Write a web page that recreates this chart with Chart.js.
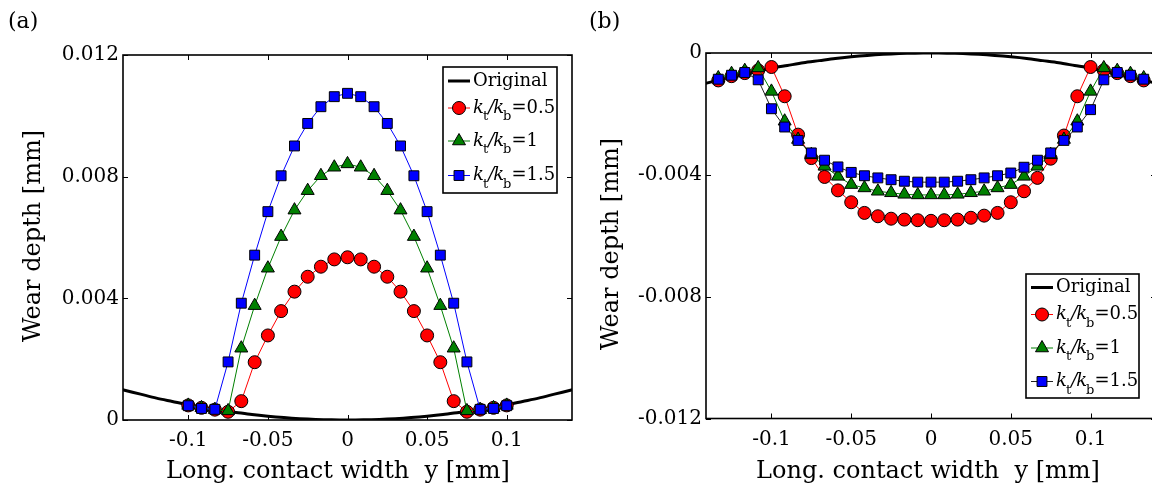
<!DOCTYPE html>
<html>
<head>
<meta charset="utf-8">
<script src="https://cdn.jsdelivr.net/npm/chart.js@4.4.1/dist/chart.umd.min.js"></script>
<style>
  html, body { margin: 0; padding: 0; background: #fff; overflow: hidden; }
  #wrap { position: relative; width: 1152px; height: 486px; overflow: hidden; background: #fff; }
  #ca { position: absolute; left: 0; top: 0; }
  #cb { position: absolute; left: 590px; top: 0; }
</style>
</head>
<body>
<div id="wrap">
  <canvas id="ca" width="600" height="486"></canvas>
  <canvas id="cb" width="590" height="486"></canvas>
</div>
<script>
// ---- Panel (a): wear depth along the contact, three stiffness ratios ----
const posA = [-0.1, -0.0917, -0.0833, -0.075, -0.0667, -0.0583, -0.05, -0.0417, -0.0333, -0.025, -0.0167, -0.0083,
  0, 0.0083, 0.0167, 0.025, 0.0333, 0.0417, 0.05, 0.0583, 0.0667, 0.075, 0.0833, 0.0917, 0.1];
const wearA_05 = [0.00048, 0.00040, 0.00034, 0.00027, 0.00062, 0.00190, 0.00278, 0.00358, 0.00422, 0.00471, 0.00504, 0.00528,
  0.00535, 0.00528, 0.00504, 0.00471, 0.00422, 0.00358, 0.00278, 0.00190, 0.00062, 0.00027, 0.00034, 0.00040, 0.00048];
const wearA_10 = [0.00048, 0.00040, 0.00034, 0.00030, 0.00236, 0.00376, 0.00499, 0.00603, 0.00690, 0.00754, 0.00803, 0.00831,
  0.00842, 0.00831, 0.00803, 0.00754, 0.00690, 0.00603, 0.00499, 0.00376, 0.00236, 0.00030, 0.00034, 0.00040, 0.00048];
const wearA_15 = [0.00047, 0.00038, 0.00035, 0.00191, 0.00384, 0.00542, 0.00685, 0.00803, 0.00901, 0.00975, 0.01030, 0.01063,
  0.01074, 0.01063, 0.01030, 0.00975, 0.00901, 0.00803, 0.00685, 0.00542, 0.00384, 0.00191, 0.00035, 0.00038, 0.00047];

// ---- Panel (b): profile after wear ----
const posB = [-0.1333, -0.125, -0.1167, -0.1083, -0.1, -0.0917, -0.0833, -0.075, -0.0667, -0.0583, -0.05, -0.0417, -0.0333, -0.025, -0.0167, -0.0083,
  0, 0.0083, 0.0167, 0.025, 0.0333, 0.0417, 0.05, 0.0583, 0.0667, 0.075, 0.0833, 0.0917, 0.1, 0.1083, 0.1167, 0.125, 0.1333];
const wearB_05 = [-0.00090, -0.00076, -0.00066, -0.00057, -0.00046, -0.00142, -0.00268, -0.00345, -0.00407, -0.00451, -0.00490, -0.00525, -0.00536, -0.00544, -0.00547, -0.00549,
  -0.00551, -0.00549, -0.00547, -0.00541, -0.00534, -0.00525, -0.00490, -0.00454, -0.00410, -0.00347, -0.00271, -0.00142, -0.00046, -0.00057, -0.00066, -0.00076, -0.00090];
const wearB_10 = [-0.00082, -0.00068, -0.00058, -0.00049, -0.00126, -0.00224, -0.00284, -0.00334, -0.00372, -0.00405, -0.00432, -0.00443, -0.00454, -0.00459, -0.00464, -0.00466,
  -0.00466, -0.00466, -0.00464, -0.00459, -0.00454, -0.00443, -0.00432, -0.00405, -0.00372, -0.00334, -0.00284, -0.00224, -0.00126, -0.00049, -0.00058, -0.00068, -0.00082];
const wearB_15 = [-0.00086, -0.00073, -0.00064, -0.00088, -0.00183, -0.00243, -0.00287, -0.00328, -0.00352, -0.00374, -0.00392, -0.00403, -0.00410, -0.00416, -0.00421, -0.00424,
  -0.00424, -0.00424, -0.00421, -0.00416, -0.00410, -0.00403, -0.00394, -0.00375, -0.00352, -0.00328, -0.00287, -0.00243, -0.00186, -0.00088, -0.00064, -0.00073, -0.00086];

// ---- Unworn (original) profile ----
const origPos = [-0.15, -0.14, -0.13, -0.12, -0.11, -0.10, -0.09, -0.08, -0.07, -0.06, -0.05, -0.04, -0.03, -0.02, -0.01, 0,
  0.01, 0.02, 0.03, 0.04, 0.05, 0.06, 0.07, 0.08, 0.09, 0.10, 0.11, 0.12, 0.13, 0.14, 0.15];
const origA = [0.00112, 0.00098, 0.00085, 0.00072, 0.00061, 0.00050, 0.00041, 0.00032, 0.00025, 0.00018, 0.000125, 0.00008, 0.000045, 0.00002, 0.000005, 0,
  0.000005, 0.00002, 0.000045, 0.00008, 0.000125, 0.00018, 0.00025, 0.00032, 0.00041, 0.00050, 0.00061, 0.00072, 0.00085, 0.00098, 0.00112];
const origB = [-0.00112, -0.00098, -0.00085, -0.00072, -0.00061, -0.00050, -0.00041, -0.00032, -0.00025, -0.00018, -0.000125, -0.00008, -0.000045, -0.00002, -0.000005, 0,
  -0.000005, -0.00002, -0.000045, -0.00008, -0.000125, -0.00018, -0.00025, -0.00032, -0.00041, -0.00050, -0.00061, -0.00072, -0.00085, -0.00098, -0.00112];

// ---- Axes ----
const xTicks = [-0.1, -0.05, 0, 0.05, 0.1];
const xTickLabels = ['-0.1', '-0.05', '0', '0.05', '0.1'];
const yTicksA = [0, 0.004, 0.008, 0.012];
const yTickLabelsA = ['0', '0.004', '0.008', '0.012'];
const yTicksB = [-0.012, -0.008, -0.004, 0];
const yTickLabelsB = ['-0.012', '-0.008', '-0.004', '0'];
const seriesNames = ['Original', '0.5', '1', '1.5'];

const FONT = '"DejaVu Serif", "Liberation Serif", serif';
const pairs = (xs, ys) => xs.map((v, i) => ({ x: v, y: ys[i] }));

function markerSet(values, xs, style, fill, lineColor, radius, order) {
  return {
    data: pairs(xs, values),
    borderColor: lineColor,
    borderWidth: 1,
    pointStyle: style,
    pointRadius: radius,
    pointBackgroundColor: fill,
    pointBorderColor: '#000',
    pointBorderWidth: 1,
    tension: 0,
    order: order
  };
}

function drawMarker(ctx, style, x, y, r, fill) {
  ctx.save();
  ctx.fillStyle = fill; ctx.strokeStyle = '#000'; ctx.lineWidth = 1;
  ctx.beginPath();
  if (style === 'circle') {
    ctx.arc(x, y, r, 0, Math.PI * 2);
  } else if (style === 'rect') {
    const s = r * Math.SQRT1_2;
    ctx.rect(x - s, y - s, 2 * s, 2 * s);
  } else {
    ctx.moveTo(x, y - r);
    ctx.lineTo(x + r * Math.sin(Math.PI * 2 / 3), y - r * Math.cos(Math.PI * 2 / 3));
    ctx.lineTo(x + r * Math.sin(Math.PI * 4 / 3), y - r * Math.cos(Math.PI * 4 / 3));
    ctx.closePath();
  }
  ctx.fill(); ctx.stroke();
  ctx.restore();
}

// frame, inward ticks, axis titles, panel tag and legend
const decorPlugin = {
  id: 'decor',
  afterDraw(chart, args, o) {
    const { ctx, chartArea: a, scales } = chart;
    const xs = scales.x, ys = scales.y;
    ctx.save();
    ctx.strokeStyle = '#000';
    ctx.lineWidth = 1.6;
    ctx.strokeRect(a.left, a.top, a.right - a.left, a.bottom - a.top);
    ctx.lineWidth = 1;
    const tl = 5;
    ctx.beginPath();
    o.xTicks.forEach(v => {
      const p = Math.round(xs.getPixelForValue(v)) + 0.5;
      ctx.moveTo(p, a.bottom); ctx.lineTo(p, a.bottom - tl);
      ctx.moveTo(p, a.top); ctx.lineTo(p, a.top + tl);
    });
    o.yTicks.forEach(v => {
      const p = Math.round(ys.getPixelForValue(v)) + 0.5;
      ctx.moveTo(a.left, p); ctx.lineTo(a.left + tl, p);
      ctx.moveTo(a.right, p); ctx.lineTo(a.right - tl, p);
    });
    ctx.stroke();

    // titles
    ctx.fillStyle = '#000';
    ctx.font = '24px ' + FONT;
    ctx.textAlign = 'center'; ctx.textBaseline = 'middle';
    ctx.fillText('Long. contact width  y [mm]', o.xTitle[0], o.xTitle[1]);
    ctx.save();
    ctx.translate(o.yTitle[0], o.yTitle[1]);
    ctx.rotate(-Math.PI / 2);
    ctx.fillText('Wear depth [mm]', 0, 0);
    ctx.restore();
    ctx.font = '22px ' + FONT;
    ctx.textAlign = 'left';
    ctx.fillText(o.tag, o.tagPos[0], o.tagPos[1]);

    // legend
    const L = o.legend;
    ctx.fillStyle = '#fff';
    ctx.fillRect(L.x, L.y, L.w, L.h);
    ctx.lineWidth = 1.6; ctx.strokeStyle = '#000';
    ctx.strokeRect(L.x, L.y, L.w, L.h);
    const ds = chart.data.datasets;
    L.rows.forEach((ry, i) => {
      const d = ds[i];
      ctx.strokeStyle = d.borderColor;
      ctx.lineWidth = d.borderWidth;
      ctx.beginPath(); ctx.moveTo(L.lx0, ry); ctx.lineTo(L.lx1, ry); ctx.stroke();
      if (i > 0) drawMarker(ctx, d.pointStyle, (L.lx0 + L.lx1) / 2, ry, d.pointRadius, d.pointBackgroundColor);
      ctx.fillStyle = '#000';
      ctx.textAlign = 'left'; ctx.textBaseline = 'middle';
      let cx = L.tx;
      const put = (t, f, dy, kern) => { ctx.font = f; ctx.fillText(t, cx, ry + dy); cx += ctx.measureText(t).width + (kern || 0); };
      if (i === 0) {
        put(seriesNames[0], '18px ' + FONT, 0);
      } else {
        put('k', 'italic 18px ' + FONT, 0, -1);
        put('t', '13px ' + FONT, 9);
        put('/', 'italic 18px ' + FONT, 0, -1);
        put('k', 'italic 18px ' + FONT, 0, -1);
        put('b', '13px ' + FONT, 9);
        put('=' + seriesNames[i], '18px ' + FONT, 0);
      }
    });
    ctx.restore();
  }
};

function buildChart(id, p) {
  return new Chart(document.getElementById(id), {
    type: 'line',
    data: { datasets: p.datasets },
    options: {
      responsive: false,
      animation: false,
      events: [],
      layout: { padding: { left: 0, right: p.padRight, top: p.padTop, bottom: 0 } },
      plugins: { legend: { display: false }, tooltip: { enabled: false }, decor: p.decor },
      scales: {
        x: {
          type: 'linear', min: -0.141, max: 0.141,
          grid: { display: false, drawTicks: false },
          border: { display: false },
          afterBuildTicks: s => { s.ticks = xTicks.map(v => ({ value: v })); },
          afterFit: s => { s.height = p.xAxisH; },
          ticks: {
            padding: 9, color: '#000', font: { family: FONT, size: 20 },
            callback: v => xTickLabels[xTicks.indexOf(v)]
          }
        },
        y: {
          type: 'linear', min: p.yMin, max: p.yMax,
          grid: { display: false, drawTicks: false },
          border: { display: false },
          afterBuildTicks: s => { s.ticks = p.yTicks.map(v => ({ value: v })); },
          afterFit: s => { s.width = p.yAxisW; },
          ticks: {
            padding: 4, color: '#000', font: { family: FONT, size: 20 },
            callback: v => p.yLabels[p.yTicks.indexOf(v)]
          }
        }
      }
    },
    plugins: [decorPlugin]
  });
}

const origStyle = (vals) => ({
  data: pairs(origPos, vals), borderColor: '#000', borderWidth: 3, pointRadius: 0, tension: 0.3, order: 4
});

buildChart('ca', {
  padRight: 28, padTop: 55, xAxisH: 66, yAxisW: 123,
  yMin: 0, yMax: 0.012, yTicks: yTicksA, yLabels: yTickLabelsA,
  datasets: [
    origStyle(origA),
    markerSet(wearA_05, posA, 'circle', '#ff0000', '#ff0000', 6.5, 3),
    markerSet(wearA_10, posA, 'triangle', '#008000', '#008000', 7.5, 2),
    markerSet(wearA_15, posA, 'rect', '#0000ff', '#0000ff', 7, 1)
  ],
  decor: {
    xTicks: xTicks, yTicks: yTicksA,
    xTitle: [338, 472], yTitle: [34, 236], tag: '(a)', tagPos: [8, 22],
    legend: { x: 443, y: 67, w: 114, h: 126, rows: [81, 108, 141, 175.5], lx0: 448, lx1: 470, tx: 473 }
  }
});

buildChart('cb', {
  padRight: 24, padTop: 53, xAxisH: 67.5, yAxisW: 116,
  yMin: -0.012, yMax: 0, yTicks: yTicksB, yLabels: yTickLabelsB,
  datasets: [
    origStyle(origB),
    markerSet(wearB_05, posB, 'circle', '#ff0000', '#ff0000', 6.5, 3),
    markerSet(wearB_10, posB, 'triangle', '#008000', '#008000', 7.5, 2),
    markerSet(wearB_15, posB, 'rect', '#0000ff', '#222222', 7, 1)
  ],
  decor: {
    xTicks: xTicks, yTicks: yTicksB,
    xTitle: [338, 472], yTitle: [22, 244], tag: '(b)', tagPos: [-1, 22],
    legend: { x: 436, y: 274, w: 113, h: 124, rows: [287.5, 314.5, 348, 381.5], lx0: 441, lx1: 463, tx: 466 }
  }
});
</script>
</body>
</html>
